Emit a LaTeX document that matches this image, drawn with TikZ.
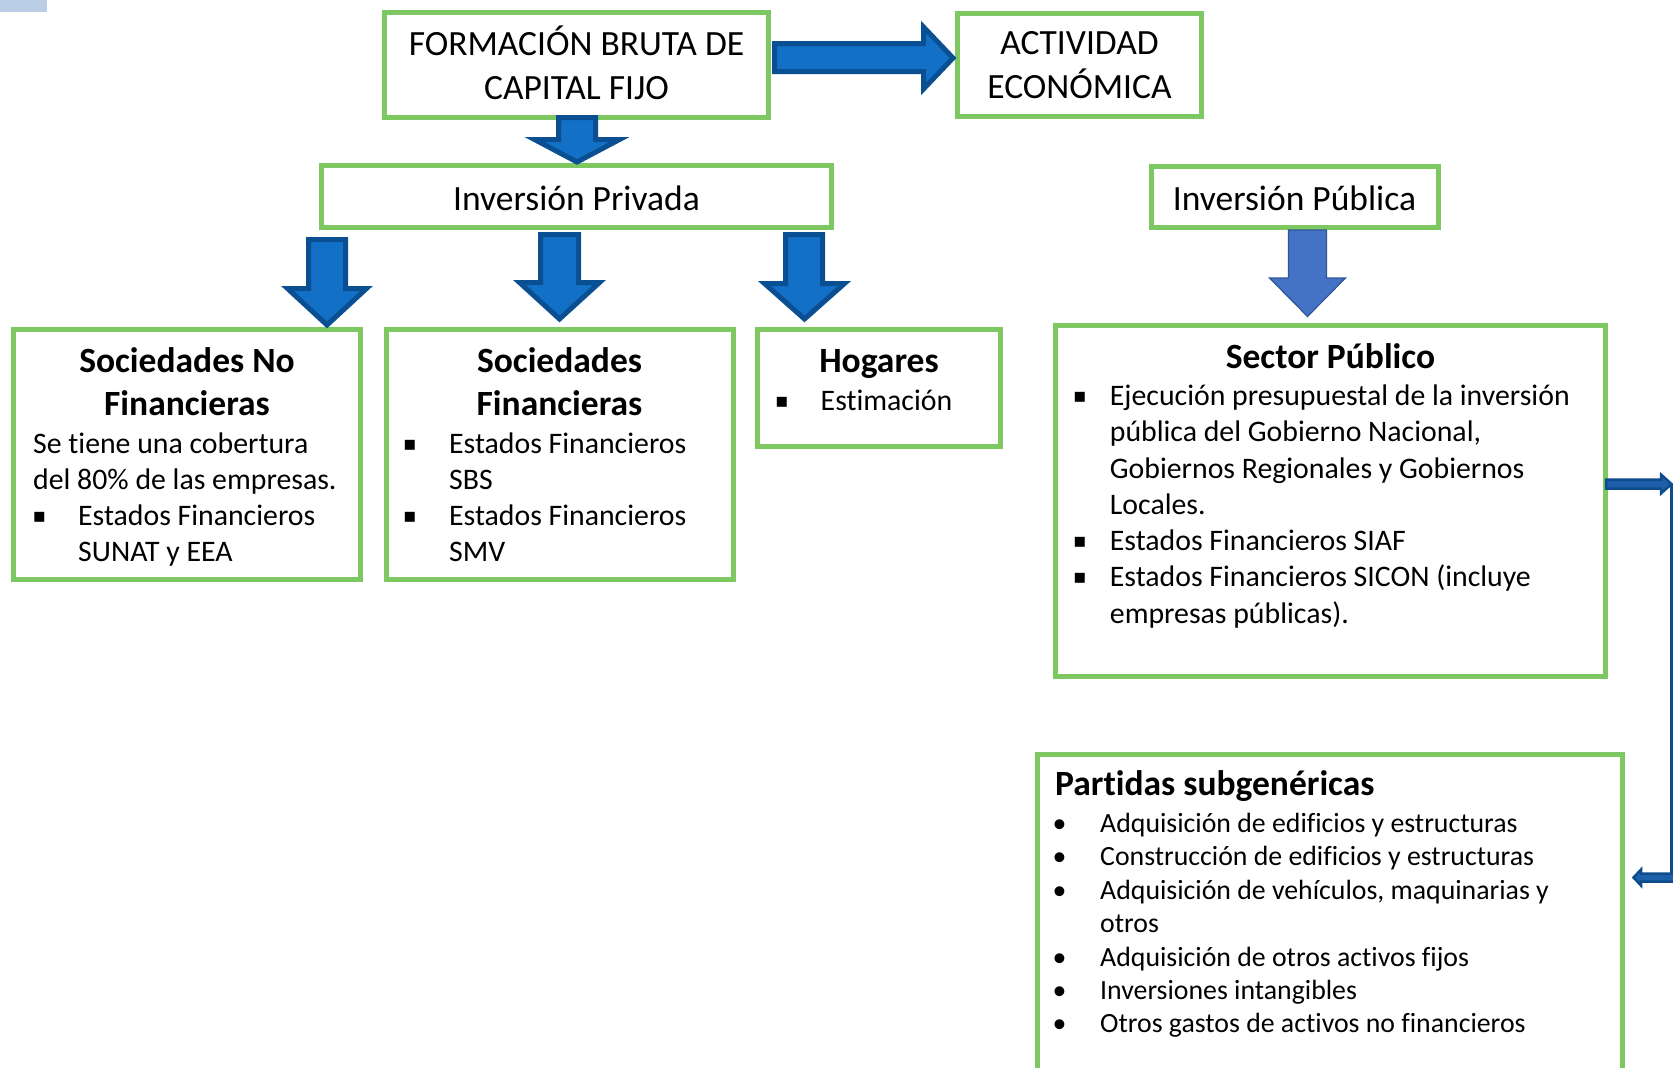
\documentclass[tikz,border=0pt]{standalone}
\usepackage{fontspec}
\setmainfont{Carlito}[Ligatures=CommonOff]
\newfontfamily\symfnt{DejaVu Sans}
\usetikzlibrary{fit}
\definecolor{gbord}{HTML}{7EC862}
\definecolor{afill}{HTML}{1270C6}
\definecolor{abord}{HTML}{0B4F93}
\definecolor{pfill}{HTML}{4472C4}
\definecolor{pbord}{HTML}{2F5597}
\definecolor{cfill}{HTML}{1D5FA8}
\definecolor{cbord}{HTML}{0F4C8D}
\definecolor{tabc}{HTML}{B9CDE5}
\begin{document}
\begin{tikzpicture}[x=1pt,y=-1pt,
  gbox/.style={draw=gbord, line width=5pt, inner sep=0pt, outer sep=0pt},
  blk/.style={fill=afill, draw=abord, line width=5pt, line join=miter},
  pblk/.style={fill=pfill, draw=pbord, line width=1.2pt, line join=miter},
  conn/.style={fill=cfill, draw=cbord, line width=2.5pt, line join=miter},
  ttl/.style={anchor=base, inner sep=0pt, font=\fontsize{35.5}{43}\selectfont},
  hd/.style={anchor=base, inner sep=0pt, font=\fontsize{35.5}{43}\selectfont\bfseries},
  hdl/.style={anchor=base west, inner sep=0pt, font=\fontsize{35.5}{43}\selectfont\bfseries},
  bd/.style={anchor=base west, inner sep=0pt, font=\fontsize{29.8}{36}\selectfont},
  sm/.style={anchor=base west, inner sep=0pt, font=\fontsize{27.8}{33}\selectfont},
  sq/.style={anchor=center, inner sep=0pt, font=\symfnt\fontsize{20}{20}\selectfont},
  dotb/.style={anchor=base, inner sep=0pt, font=\fontsize{27.8}{33}\selectfont}
]
\useasboundingbox (0,0) rectangle (1673,1068);
\clip (0,0) rectangle (1673,1068);

% corner tab
\fill[tabc] (0,0) rectangle (47,12);

% boxes
\node[gbox, fit={(384.5,12.5) (768.5,117.5)}] (fbcf) {};
\node[gbox, fit={(957.5,13) (1201.5,116)}] (act) {};
\node[gbox, fit={(321.5,165.5) (831.5,227.5)}] (ipr) {};
\node[gbox, fit={(1151,166) (1438,227)}] (ipu) {};
\node[gbox, fit={(13.5,329.5) (360.5,579.5)}] (snf) {};
\node[gbox, fit={(386,329.5) (733,579.5)}] (sf) {};
\node[gbox, fit={(757.5,329.5) (1000.5,446)}] (hog) {};
\node[gbox, fit={(1055.5,325.5) (1605.5,676.5)}] (sp) {};
\node[gbox, fit={(1037.5,754.5) (1622.5,1090)}] (pa) {};

% block arrows
\draw[blk] (774.5,43.5) -- (923.5,43.5) -- (923.5,27) -- (953,58) -- (923.5,89) -- (923.5,71.5) -- (774.5,71.5) -- cycle;
\draw[blk] (558.5,117.5) -- (595.5,117.5) -- (595.5,139.5) -- (619.5,139.5) -- (577,162) -- (534.5,139.5) -- (558.5,139.5) -- cycle;
\draw[blk] (308.5,239.5) -- (345.5,239.5) -- (345.5,288.5) -- (366.5,288.5) -- (327,325) -- (287.5,288.5) -- (308.5,288.5) -- cycle;
\draw[blk] (540.5,234.5) -- (578.5,234.5) -- (578.5,282.5) -- (599.5,282.5) -- (559.5,319) -- (519.5,282.5) -- (540.5,282.5) -- cycle;
\draw[blk] (785.5,234.5) -- (822.5,234.5) -- (822.5,283.5) -- (844.5,283.5) -- (804.5,319) -- (764.5,283.5) -- (785.5,283.5) -- cycle;
\draw[pblk] (1288.5,230) -- (1326.5,230) -- (1326.5,278) -- (1345.5,278) -- (1307.5,316.5) -- (1269.5,278) -- (1288.5,278) -- cycle;

% elbow connector (clipped at the right edge)
\coordinate (k1) at (1671.5,484);
\coordinate (k2) at (1671.5,877.5);
\coordinate (a1) at (1606,479.5);
\coordinate (a2) at (1606,488.5);
\draw[cbord, line width=3pt] (k1) -- (k2);
\draw[conn] (a1) -- (1661,479.5) -- (1661,474.5) -- (k1) -- (1661,493.5) -- (1661,488.5) -- (a2) -- cycle;
\draw[conn] (1675,873.5) -- (1641,873.5) -- (1641,869.5) -- (1633.5,877.5) -- (1641,885.5) -- (1641,881.5) -- (1675,881.5) -- cycle;

% titles
\node[ttl] (t1) at (576.5,55) {FORMACIÓN BRUTA DE};
\node[ttl] (t2) at (576.5,99) {CAPITAL FIJO};
\node[ttl] (t3) at (1079.5,54) {ACTIVIDAD};
\node[ttl] (t4) at (1079.5,98) {ECONÓMICA};
\node[ttl] (t5) at (576.5,210) {Inversión Privada};
\node[ttl] (t6) at (1294.5,210) {Inversión Pública};

% Sociedades No Financieras
\node[hd] (n1) at (187,372) {Sociedades No};
\node[hd] (n2) at (187,415) {Financieras};
\node[bd] (n3) at (33,453) {Se tiene una cobertura};
\node[bd] (n4) at (33,489) {del 80\% de las empresas.};
\node[sq] (n5) at (39.5,517) {▪};
\node[bd] (n6) at (78,525) {Estados Financieros};
\node[bd] (n7) at (78,561) {SUNAT y EEA};

% Sociedades Financieras
\node[hd] (f1) at (559.5,372) {Sociedades};
\node[hd] (f2) at (559.5,415) {Financieras};
\node[sq] (f3) at (410,445) {▪};
\node[bd] (f4) at (449,453) {Estados Financieros};
\node[bd] (f5) at (449,489) {SBS};
\node[sq] (f6) at (410,517) {▪};
\node[bd] (f7) at (449,525) {Estados Financieros};
\node[bd] (f8) at (449,561) {SMV};

% Hogares
\node[hd] (h1) at (879,372) {Hogares};
\node[sq] (h2) at (782,402.5) {▪};
\node[bd] (h3) at (820.5,410.5) {Estimación};

% Sector Publico
\node[hd] (s0) at (1330.5,368) {Sector Público};
\node[sq] (sb1) at (1080,397.5) {▪};
\node[bd] (s1) at (1109.7,405.5) {Ejecución presupuestal de la inversión};
\node[bd] (s2) at (1109.7,441.75) {pública del Gobierno Nacional,};
\node[bd] (s3) at (1109.7,478) {Gobiernos Regionales y Gobiernos};
\node[bd] (s4) at (1109.7,514.25) {Locales.};
\node[sq] (sb2) at (1080,542.5) {▪};
\node[bd] (s5) at (1109.7,550.5) {Estados Financieros SIAF};
\node[sq] (sb3) at (1080,578.75) {▪};
\node[bd] (s6) at (1109.7,586.75) {Estados Financieros SICON (incluye};
\node[bd] (s7) at (1109.7,623) {empresas públicas).};

% Partidas
\node[hdl] (p0) at (1055,795.5) {Partidas subgenéricas};
\node[dotb] (pb1) at (1059.5,832.5) {•};
\node[sm] (p1) at (1100,832.5) {Adquisición de edificios y estructuras};
\node[dotb] (pb2) at (1059.5,865.9) {•};
\node[sm] (p2) at (1100,865.9) {Construcción de edificios y estructuras};
\node[dotb] (pb3) at (1059.5,899.3) {•};
\node[sm] (p3) at (1100,899.3) {Adquisición de vehículos, maquinarias y};
\node[sm] (p4) at (1100,932.7) {otros};
\node[dotb] (pb5) at (1059.5,966.1) {•};
\node[sm] (p5) at (1100,966.1) {Adquisición de otros activos fijos};
\node[dotb] (pb6) at (1059.5,999.5) {•};
\node[sm] (p6) at (1100,999.5) {Inversiones intangibles};
\node[dotb] (pb7) at (1059.5,1032.9) {•};
\node[sm] (p7) at (1100,1032.9) {Otros gastos de activos no financieros};
\end{tikzpicture}
\end{document}
